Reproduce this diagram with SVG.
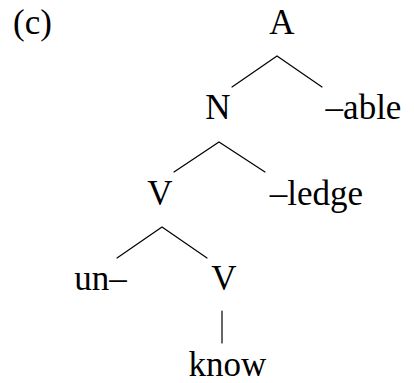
<svg xmlns="http://www.w3.org/2000/svg" width="414" height="383" viewBox="0 0 414 383">
<style>
text{font-family:"Liberation Serif","Times New Roman",serif;font-size:35px;fill:#000;text-anchor:middle}
.edge{stroke:#000;stroke-width:1.2;fill:none;stroke-linecap:round}
</style>
<rect width="414" height="383" fill="#fff"/>
<text id="label" x="13" y="34" style="text-anchor:start">(c)</text>
<g id="connectors">
<path class="edge" d="M232,87 L277,56 L322,87"/>
<path class="edge" d="M174,172 L219,142 L265,172"/>
<path class="edge" d="M117,258 L162,227 L207,258"/>
<path class="edge" d="M222,311 L222,343"/>
</g>
<g id="node-A"><text x="282" y="34">A</text></g>
<g id="node-N"><text x="218" y="119">N</text></g>
<g id="node-able"><text x="363.5" y="119">–able</text></g>
<g id="node-V1"><text x="160" y="205">V</text></g>
<g id="node-ledge"><text x="316.5" y="205">–ledge</text></g>
<g id="node-un"><text x="100.5" y="290">un–</text></g>
<g id="node-V2"><text x="224" y="290">V</text></g>
<g id="node-know"><text x="227.5" y="376">know</text></g>
</svg>
